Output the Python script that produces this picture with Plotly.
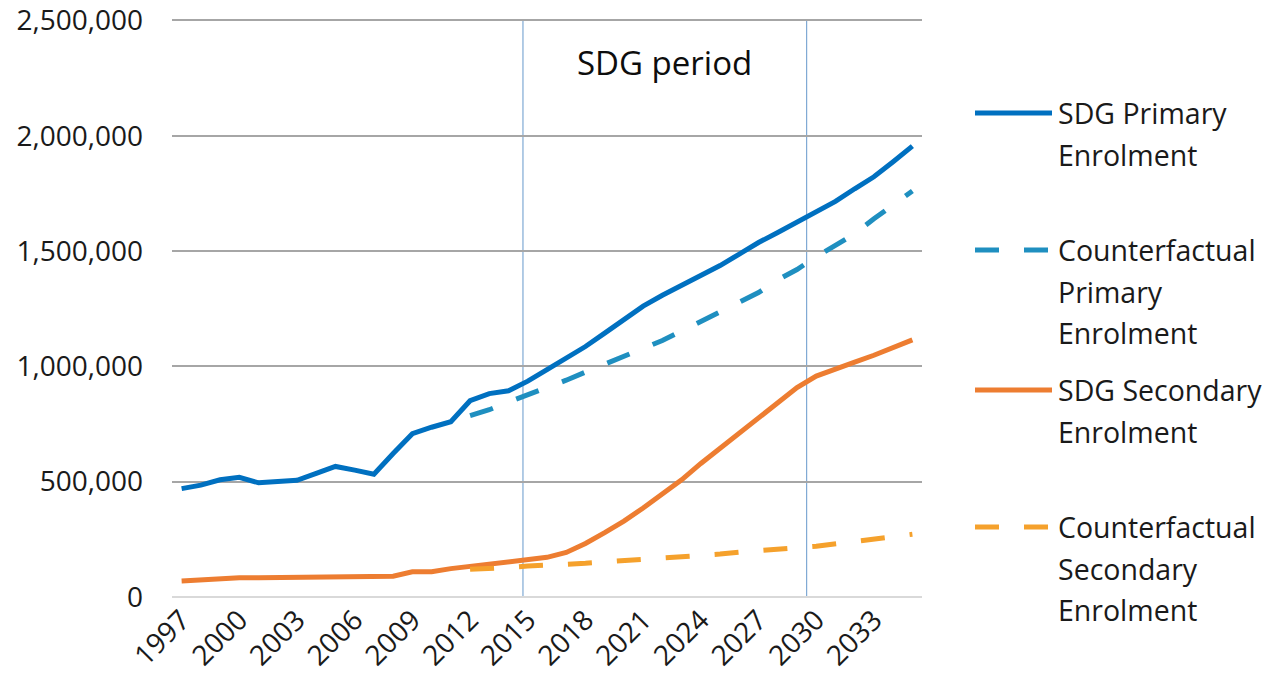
import plotly.graph_objects as go

years = list(range(1997, 2036))

sdg_primary = [470000, 485000, 508000, 519000, 495000, 500000, 506000, 536000, 566000,
               550000, 532000, 622000, 708000, 736000, 760000, 851000, 882000, 894000,
               936000, 986000, 1036000, 1086000, 1144000, 1201000, 1261000, 1308000,
               1351000, 1394000, 1437000, 1487000, 1537000, 1580000, 1627000, 1670000,
               1715000, 1770000, 1822000, 1887000, 1955000]

cf_years = list(range(2012, 2036))
cf_primary = [786000, 812000, 845000, 875000, 905000, 940000, 975000, 1008000, 1041000,
              1077000, 1112000, 1153000, 1196000, 1236000, 1279000, 1320000, 1375000,
              1420000, 1475000, 1528000, 1575000, 1640000, 1700000, 1760000]

sdg_secondary = [69000, 75000, 78000, 83000, 84000, 85000, 86000, 83000, 83000, 85000,
                 87000, 90000, 109000, 110000, 123000, 133000, 144000, 154000, 163000,
                 172000, 193000, 232000, 279000, 329000, 386000, 446000, 508000, 579000,
                 646000, 711000, 779000, 843000, 908000, 958000, 986000, 1018000, 1048000,
                 1079000, 1115000]

cf_secondary = [120000, 122000, 128000, 134000, 137000, 140000, 146000, 152000, 157000,
                163000, 168000, 174000, 180000, 186000, 194000, 202000, 208000, 214000,
                220000, 230000, 240000, 250000, 260000, 272000]

x_tick_years = list(range(1997, 2034, 3))
y_ticks = [0, 500000, 1000000, 1500000, 2000000, 2500000]
sdg_period_bounds = [2014.75, 2029.5]
period_label = "SDG period"

series_names = ["SDG Primary Enrolment", "Counterfactual Primary Enrolment",
                "SDG Secondary Enrolment", "Counterfactual Secondary Enrolment"]
legend_lines = [["SDG Primary", "Enrolment"],
                ["Counterfactual", "Primary", "Enrolment"],
                ["SDG Secondary", "Enrolment"],
                ["Counterfactual", "Secondary", "Enrolment"]]

FONT = "Open Sans"
TXT = "#1a1a1a"
COLORS = ["#0070c0", "#1f8fc0", "#ed7d31", "#f5a12c"]
DASHES = ["solid", "24px,25px", "solid", "24px,25px"]

# layout geometry (screen pixels); page margin removed by post_script
W, H = 1272, 693
SL, SR, ST, SB = 172, 922, 19, 597        # plot area on screen
Y_MAX = 2506000                           # tiny headroom so the top gridline shows


def fx(sx):
    return (sx - SL) / (SR - SL)


def fy(sy):
    return (SB - sy) / (SB - ST)


fig = go.Figure()
series_x = [years, cf_years, years, cf_years]
series_y = [sdg_primary, cf_primary, sdg_secondary, cf_secondary]
for name, xs, ys, col, dsh in zip(series_names, series_x, series_y, COLORS, DASHES):
    fig.add_trace(go.Scatter(x=xs, y=ys, mode="lines", name=name,
                             line=dict(color=col, width=5, dash=dsh),
                             showlegend=False))

for xb in sdg_period_bounds:
    fig.add_shape(type="line", xref="x", yref="paper", x0=xb, x1=xb, y0=0, y1=fy(20),
                  line=dict(color="#7fa9d4", width=1.2), layer="below")

fig.add_annotation(x=sum(sdg_period_bounds) / 2, y=fy(62), xref="x", yref="paper",
                   text=period_label, showarrow=False, xanchor="center", yanchor="middle",
                   font=dict(family=FONT, size=33, color="#0d0d0d"))

# legend drawn at the right, Excel style
legend_first_y = [113, 250, 390, 527]
LINE_GAP = 41.5
for lines, col, dsh, y0 in zip(legend_lines, COLORS, DASHES, legend_first_y):
    fig.add_shape(type="line", xref="paper", yref="paper",
                  x0=fx(975), x1=fx(1052), y0=fy(y0), y1=fy(y0),
                  line=dict(color=col, width=5, dash=dsh))
    for k, txt in enumerate(lines):
        fig.add_annotation(x=fx(1056), y=fy(y0 + k * LINE_GAP), xref="paper", yref="paper",
                           text=txt, showarrow=False, xanchor="left", yanchor="middle",
                           font=dict(family=FONT, size=28.5, color=TXT))

fig.update_layout(
    width=W, height=H,
    margin=dict(l=SL, r=W - SR, t=ST, b=H - SB, autoexpand=False),
    paper_bgcolor="white", plot_bgcolor="white",
    font=dict(family=FONT, size=28, color=TXT),
    showlegend=False,
)
fig.update_xaxes(range=[1996.5, 2035.5], tickmode="array", tickvals=x_tick_years,
                 ticktext=[str(v) for v in x_tick_years], tickangle=-45,
                 showgrid=False, zeroline=False, showline=False, ticks="",
                 automargin=False, ticklabeloverflow="allow",
                 tickfont=dict(family=FONT, size=28, color=TXT))
fig.update_yaxes(range=[0, Y_MAX], tickmode="array", tickvals=y_ticks,
                 ticktext=[f"{v:,}" for v in y_ticks],
                 showgrid=True, gridcolor="#a6a6a6", gridwidth=2,
                 zeroline=True, zerolinecolor="#d9d9d9", zerolinewidth=2,
                 showline=False, ticks="", ticklabelstandoff=28, automargin=False,
                 ticklabeloverflow="allow",
                 tickfont=dict(family=FONT, size=28, color=TXT))

fig.write_html("out.html", config={"displayModeBar": False},
               post_script="document.body.style.margin='0';"
                           "document.body.style.overflow='hidden';")
